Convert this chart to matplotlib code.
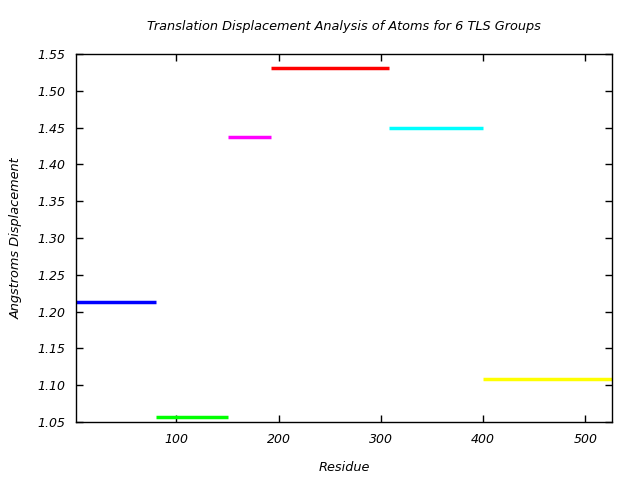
import matplotlib
matplotlib.use("Agg")
import matplotlib.pyplot as plt

# TLS group residue ranges and translation displacement
starts = [2, 80, 151, 193, 308, 400]
ends = [80, 151, 193, 308, 400, 526]
disp = [1.2135, 1.0565, 1.4377, 1.5306, 1.449, 1.108]
colors = ["#0000ff", "#00ff00", "#ff00ff", "#ff0000", "#00ffff", "#ffff00"]

xticks = [100, 200, 300, 400, 500]
yticks = [1.05, 1.10, 1.15, 1.20, 1.25, 1.30, 1.35, 1.40, 1.45, 1.50, 1.55]

plt.rcParams["font.family"] = "DejaVu Sans"
plt.rcParams["font.style"] = "italic"

fig = plt.figure(figsize=(6.4, 4.8), dpi=100)
ax = fig.add_axes([0.119, 0.121, 0.837, 0.7665])

for s, e, d, c in zip(starts, ends, disp, colors):
    ax.plot([s, e], [d, d], color=c, lw=2.5, solid_capstyle="butt")

ax.set_xlim(2, 526)
ax.set_ylim(1.05, 1.55)
ax.set_xticks(xticks)
ax.set_yticks(yticks)
ax.set_yticklabels(["%.2f" % v for v in yticks])
ax.tick_params(direction="in", length=5, width=1, top=True, right=True,
               labelsize=9, pad=8)
for sp in ax.spines.values():
    sp.set_linewidth(1)

ax.set_title("Translation Displacement Analysis of Atoms for 6 TLS Groups",
             fontsize=9.3, pad=17)
ax.set_xlabel("Residue", fontsize=9.3, labelpad=11)
ax.set_ylabel("Angstroms Displacement", fontsize=9.3, labelpad=10)

fig.savefig("out.png", dpi=100)
